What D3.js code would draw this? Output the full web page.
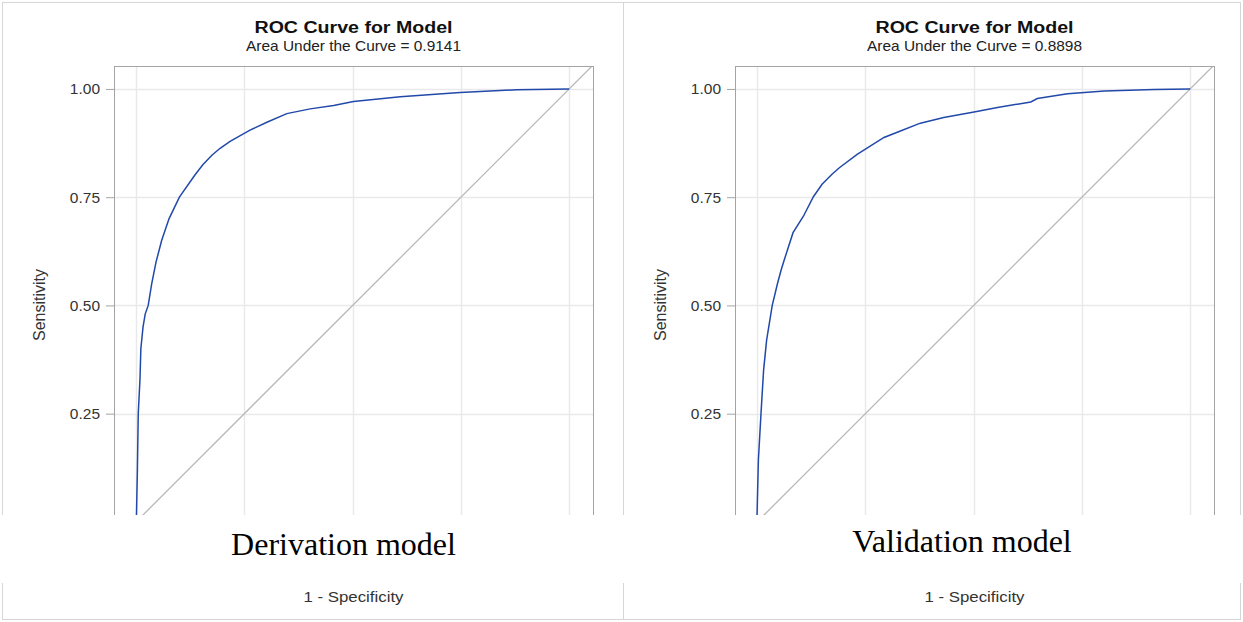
<!DOCTYPE html>
<html>
<head>
<meta charset="utf-8">
<script src="https://cdn.jsdelivr.net/npm/d3@7"></script>
<style>
  body { margin: 0; background: #fff; }
  svg { display: block; }
  text { font-family: "Liberation Sans", Arial, sans-serif; }
</style>
</head>
<body>
<svg id="chart" width="1243" height="622"></svg>
<script>
// ROC points (1 - specificity, sensitivity)
let derivFpr = [0, 0.001, 0.003, 0.005, 0.009, 0.011, 0.016, 0.021, 0.028, 0.036, 0.046, 0.059, 0.076, 0.10, 0.135, 0.154, 0.175, 0.194, 0.217, 0.263, 0.302, 0.348, 0.402, 0.456, 0.502, 0.61, 0.748, 0.879, 1.0];
let derivTpr = [0, 0.02, 0.12, 0.25, 0.33, 0.40, 0.45, 0.48, 0.50, 0.55, 0.60, 0.65, 0.70, 0.75, 0.80, 0.825, 0.847, 0.863, 0.879, 0.905, 0.923, 0.943, 0.954, 0.962, 0.971, 0.982, 0.992, 0.998, 1.0];

let validFpr = [0, 0, 0.003, 0.009, 0.015, 0.022, 0.035, 0.047, 0.055, 0.063, 0.083, 0.107, 0.13, 0.15, 0.173, 0.19, 0.231, 0.293, 0.331, 0.377, 0.431, 0.501, 0.555, 0.632, 0.647, 0.717, 0.802, 0.917, 1.0];
let validTpr = [0, 0.02, 0.143, 0.25, 0.35, 0.42, 0.50, 0.55, 0.58, 0.606, 0.668, 0.706, 0.751, 0.78, 0.803, 0.818, 0.849, 0.888, 0.903, 0.921, 0.934, 0.947, 0.957, 0.970, 0.978, 0.989, 0.995, 0.999, 1.0];

let aucLabels = ['0.9141', '0.8898'];
let modelNames = ['Derivation model', 'Validation model'];
let xGridTicks = [0, 0.25, 0.5, 0.75, 1];
let yTicks = [0.25, 0.5, 0.75, 1];

let svg = d3.select('#chart');

let panels = [
  { ox: 0, fpr: derivFpr, tpr: derivTpr, auc: aucLabels[0], name: modelNames[0], nameY: 555 },
  { ox: 621, fpr: validFpr, tpr: validTpr, auc: aucLabels[1], name: modelNames[1], nameY: 552 }
];

// outer panel boxes
svg.append('rect')
  .attr('x', 2.5).attr('y', 2.5).attr('width', 621).attr('height', 617)
  .attr('fill', 'none').attr('stroke', '#d6d6d6');
svg.append('rect')
  .attr('x', 623.5).attr('y', 2.5).attr('width', 617).attr('height', 617)
  .attr('fill', 'none').attr('stroke', '#d6d6d6');

panels.forEach((p, i) => {
  let left = 114 + p.ox, right = 593 + p.ox, top = 66, bottom = 544;
  let cx = (left + right) / 2;

  let x = d3.scaleLinear().domain([-0.051, 1.055]).range([left, right]);
  let y = d3.scaleLinear().domain([-0.051, 1.053]).range([bottom, top]);

  let g = svg.append('g');

  g.append('clipPath').attr('id', 'clip' + i)
    .append('rect')
    .attr('x', left).attr('y', top).attr('width', right - left).attr('height', bottom - top);

  // gridlines
  g.append('g').selectAll('line').data(xGridTicks).join('line')
    .attr('x1', d => Math.round(x(d)) + 0.5).attr('x2', d => Math.round(x(d)) + 0.5)
    .attr('y1', top).attr('y2', bottom)
    .attr('stroke', '#e9e9e9').attr('stroke-width', 1.5);
  g.append('g').selectAll('line').data(yTicks).join('line')
    .attr('y1', d => Math.round(y(d)) + 0.5).attr('y2', d => Math.round(y(d)) + 0.5)
    .attr('x1', left).attr('x2', right)
    .attr('stroke', '#e9e9e9').attr('stroke-width', 1.5);

  // chance diagonal
  g.append('line')
    .attr('clip-path', `url(#clip${i})`)
    .attr('x1', x(-0.06)).attr('y1', y(-0.06))
    .attr('x2', x(1.06)).attr('y2', y(1.06))
    .attr('stroke', '#b8b8b8').attr('stroke-width', 1.3);

  // ROC curve
  let pts = p.fpr.map((f, k) => [f, p.tpr[k]]);
  g.append('path')
    .datum(pts)
    .attr('clip-path', `url(#clip${i})`)
    .attr('fill', 'none')
    .attr('stroke', '#2149a9')
    .attr('stroke-width', 1.5)
    .attr('d', d3.line().x(d => x(d[0])).y(d => y(d[1])));

  // frame
  g.append('rect')
    .attr('x', left + 0.5).attr('y', top + 0.5)
    .attr('width', right - left).attr('height', bottom - top)
    .attr('fill', 'none').attr('stroke', '#a4a4a4');

  // y axis
  let yAxis = g.append('g')
    .attr('transform', `translate(${left},0)`)
    .call(d3.axisLeft(y).tickValues(yTicks).tickFormat(d3.format('.2f')).tickSize(8).tickPadding(6));
  yAxis.select('.domain').remove();
  yAxis.selectAll('line').attr('stroke', '#a4a4a4');
  yAxis.selectAll('text')
    .attr('fill', '#333')
    .style('font-size', '15.5px')
    .style('font-family', '"Liberation Sans", Arial, sans-serif');

  // axis labels
  g.append('text')
    .attr('transform', `translate(${45 + p.ox},${(top + bottom) / 2}) rotate(-90)`)
    .attr('text-anchor', 'middle')
    .attr('fill', '#333')
    .style('font-size', '16px')
    .text('Sensitivity');

  g.append('text')
    .attr('x', cx).attr('y', 602)
    .attr('text-anchor', 'middle')
    .attr('fill', '#333')
    .attr('textLength', 100).attr('lengthAdjust', 'spacingAndGlyphs')
    .style('font-size', '15px')
    .text('1 - Specificity');

  // titles
  g.append('text')
    .attr('x', cx).attr('y', 33)
    .attr('text-anchor', 'middle')
    .attr('fill', '#111')
    .attr('textLength', 198).attr('lengthAdjust', 'spacingAndGlyphs')
    .style('font-size', '16px').style('font-weight', 'bold')
    .text('ROC Curve for Model');

  g.append('text')
    .attr('x', cx).attr('y', 51)
    .attr('text-anchor', 'middle')
    .attr('fill', '#222')
    .attr('textLength', 215).attr('lengthAdjust', 'spacingAndGlyphs')
    .style('font-size', '14.5px')
    .text('Area Under the Curve = ' + p.auc);
});

// white caption box pasted over the bottom of both plots
svg.append('rect')
  .attr('x', 0).attr('y', 515).attr('width', 1243).attr('height', 68)
  .attr('fill', '#fff');

panels.forEach(p => {
  svg.append('text')
    .attr('x', (p.ox === 0 ? 343.5 : 962))
    .attr('y', p.nameY)
    .attr('text-anchor', 'middle')
    .attr('fill', '#000')
    .style('font-family', '"Liberation Serif", "Times New Roman", serif')
    .style('font-size', '32px')
    .text(p.name);
});
</script>
</body>
</html>
